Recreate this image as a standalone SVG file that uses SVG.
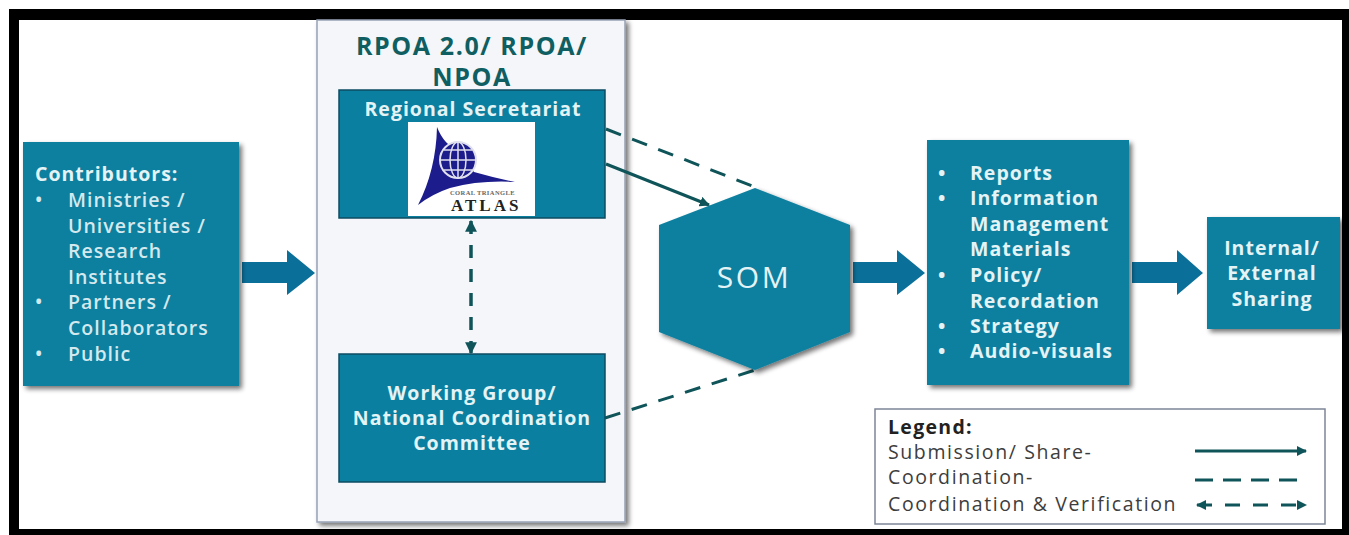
<svg xmlns="http://www.w3.org/2000/svg" width="1349" height="535" viewBox="0 0 1349 535">
<defs>
<filter id="sh" x="-10%" y="-10%" width="125%" height="125%"><feGaussianBlur in="SourceAlpha" stdDeviation="2.5"/><feOffset dx="3" dy="3"/><feComponentTransfer><feFuncA type="linear" slope="0.55"/></feComponentTransfer><feMerge><feMergeNode/><feMergeNode in="SourceGraphic"/></feMerge></filter>
<marker id="ah" viewBox="0 0 10 10" refX="9" refY="5" markerWidth="3.4" markerHeight="3.4" orient="auto-start-reverse"><path d="M0 0L10 5L0 10Z" fill="#0f5459"/></marker>
</defs>
<style>
text{font-family:"Open Sans","Noto Sans","Liberation Sans",sans-serif}
.box{fill:#0a7f9f}
.edge{stroke:#0c4c62;stroke-width:1.5}
.w{fill:#d3e9ee;font-size:19.5px;font-weight:600;letter-spacing:1px}
.wb{fill:#e4f3f5;font-size:19.5px;font-weight:700;letter-spacing:1px}
.c{text-anchor:middle}
.lg{fill:#3d3d3d;font-size:19.5px;letter-spacing:1.6px}
.lgb{fill:#222;font-size:19.5px;font-weight:700;letter-spacing:1.3px}
.ttl{fill:#0f5f62;font-size:25px;font-weight:700;letter-spacing:1.6px;text-anchor:middle}
.sol{stroke:#0f5459;stroke-width:3;fill:none}
.dash{stroke:#0f5459;stroke-width:3;fill:none;stroke-dasharray:16 12}
.ld{stroke:#0f5459;stroke-width:3;fill:none;stroke-dasharray:18 10}
.ld2{stroke:#0f5459;stroke-width:3;fill:none;stroke-dasharray:15 13}
.vd{stroke:#0f5459;stroke-width:3.5;fill:none;stroke-dasharray:13 11}
.fat{fill:#0b7099}
.ser{font-family:"Liberation Serif",serif;font-weight:700}
</style>
<rect width="1349" height="535" fill="#fff"/>
<path fill="#000" fill-rule="evenodd" d="M9 9H1349V535H9ZM19 20V529H1342V20Z"/>
<g id="rpoa-panel">
<rect x="317" y="20" width="308" height="502" fill="#f5f6f9" stroke="#97a2b5" stroke-width="1.5" filter="url(#sh)"/>
<text x="472" y="55" class="ttl">RPOA 2.0/ RPOA/</text>
<text x="472" y="86" class="ttl">NPOA</text>
</g>
<g id="connectors">
<path class="dash" d="M606 129L755 187"/>
<path class="sol" d="M606 164L709 205" marker-end="url(#ah)"/>
<path class="dash" d="M605 418L755 370"/>
<path class="vd" d="M471 221V353" marker-start="url(#ah)" marker-end="url(#ah)"/>
<path class="fat" d="M242 262H287V250L315 273L287 295V283H242Z"/>
<path class="fat" d="M853 262H897V250L925 273L897 295V283H853Z"/>
<path class="fat" d="M1132 262H1177V250L1203 273L1177 295V283H1132Z"/>
</g>
<g id="contributors">
<rect class="box" x="23" y="142" width="216" height="244" filter="url(#sh)"/>
<text x="35" y="181" class="wb">Contributors:</text>
<text x="35" y="207" class="w">•</text><text x="68" y="207" class="w">Ministries /</text>
<text x="68" y="233" class="w">Universities /</text>
<text x="68" y="258" class="w">Research</text>
<text x="68" y="284" class="w">Institutes</text>
<text x="35" y="309" class="w">•</text><text x="68" y="309" class="w">Partners /</text>
<text x="68" y="335" class="w">Collaborators</text>
<text x="35" y="361" class="w">•</text><text x="68" y="361" class="w">Public</text>
</g>
<g id="regional-secretariat">
<rect class="box edge" x="339" y="90" width="266" height="128"/>
<text x="473" y="116" class="c wb">Regional Secretariat</text>
<rect x="408" y="122" width="127" height="94" fill="#fff"/>
<path d="M437 127Q444 145 458 150L474 172Q495 178 515 182Q480 180 450 188Q432 194 418 205Q436 170 437 127Z" fill="#1c1c8c"/>
<circle cx="458" cy="160" r="18" fill="#1c1c8c" stroke="#e0e0ee" stroke-width="2"/>
<path d="M440 160H476M458 142V178M444 150H472M444 170H472" stroke="#e0e0ee" stroke-width="1.5" fill="none"/>
<ellipse cx="458" cy="160" rx="8" ry="18" fill="none" stroke="#e0e0ee" stroke-width="1.5"/>
<text x="450" y="195" class="ser" font-size="6.5" fill="#666" letter-spacing=".4">CORAL TRIANGLE</text>
<text x="451" y="211" class="ser" font-size="17" fill="#222" letter-spacing="3">ATLAS</text>
</g>
<g id="working-group">
<rect class="box edge" x="339" y="354" width="266" height="128"/>
<text x="472" y="400" class="c wb">Working Group/</text>
<text x="472" y="425" class="c wb">National Coordination</text>
<text x="472" y="450" class="c wb">Committee</text>
</g>
<g id="som">
<path class="box" d="M755 188L850 225V332L755 370L659 332V225Z" filter="url(#sh)"/>
<text x="754" y="288" class="c" fill="#e4f3f5" font-size="30" letter-spacing="2.5">SOM</text>
</g>
<g id="outputs">
<rect class="box" x="927" y="140" width="202" height="245" filter="url(#sh)"/>
<text x="938" y="180" class="wb">•</text><text x="970" y="180" class="wb">Reports</text>
<text x="938" y="205" class="wb">•</text><text x="970" y="205" class="wb">Information</text>
<text x="970" y="231" class="wb">Management</text>
<text x="970" y="256" class="wb">Materials</text>
<text x="938" y="282" class="wb">•</text><text x="970" y="282" class="wb">Policy/</text>
<text x="970" y="308" class="wb">Recordation</text>
<text x="938" y="333" class="wb">•</text><text x="970" y="333" class="wb">Strategy</text>
<text x="938" y="358" class="wb">•</text><text x="970" y="358" class="wb">Audio-visuals</text>
</g>
<g id="sharing">
<rect class="box" x="1207" y="217" width="133" height="112" filter="url(#sh)"/>
<text x="1272" y="255" class="c wb">Internal/</text>
<text x="1272" y="280" class="c wb">External</text>
<text x="1272" y="306" class="c wb">Sharing</text>
</g>
<g id="legend">
<rect x="875" y="409" width="450" height="115" fill="#fff" stroke="#7d8596" stroke-width="1.5"/>
<text x="888" y="434" class="lgb">Legend:</text>
<text x="888" y="459" class="lg">Submission/ Share-</text>
<text x="888" y="484" class="lg">Coordination-</text>
<text x="888" y="511" class="lg">Coordination &amp; Verification</text>
<path class="sol" d="M1195 451H1306" marker-end="url(#ah)"/>
<path class="ld" d="M1195 480H1297"/>
<path class="ld2" d="M1197 505H1306" marker-start="url(#ah)" marker-end="url(#ah)"/>
</g>
</svg>
